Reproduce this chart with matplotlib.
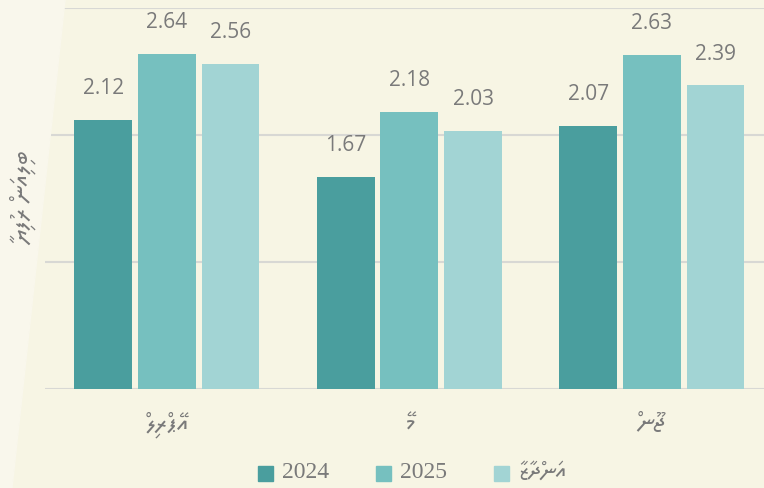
import matplotlib
matplotlib.use("Agg")
import matplotlib.pyplot as plt
from matplotlib.patches import Rectangle, Polygon
import numpy as np

# --- data -----------------------------------------------------------------
CATEGORIES = ["އޭޕްރިލް", "މޭ", "ޖޫން"]
SERIES = ["2024", "2025", "އަންދާޒާ"]
VALUES_2024 = [2.12, 1.67, 2.07]
VALUES_2025 = [2.64, 2.18, 2.63]
VALUES_EST = [2.56, 2.03, 2.39]
Y_LABEL = "ބިލިއަން ރުފިޔާ"

COLORS = ["#4a9e9e", "#76c0bf", "#a2d4d4"]
BG = "#f7f5e4"
TEXT = "#7a7a7a"
FAMILY = ["Noto Sans Thaana", "DejaVu Sans"]


def rtl(s):
    # matplotlib has no bidi: flip Thaana strings (marks land on their base)
    if not any(0x0780 <= ord(c) <= 0x07BF for c in s):
        return s
    return s[::-1]


fig = plt.figure(figsize=(7.64, 4.88), dpi=100, facecolor=BG)
# faint lighter wedge on the left edge of the background
fig.patches.append(Polygon([(0, 1), (65 / 764, 1), (12 / 764, 0), (0, 0)],
                           closed=True, transform=fig.transFigure,
                           color="#f9f7ec", zorder=0))
ax = fig.add_axes([45 / 764, 1 - 389 / 488, 719 / 764, 381 / 488])
ax.set_facecolor("none")

x = np.arange(len(CATEGORIES))
width, step = 0.239, 0.262
for i, vals in enumerate([VALUES_2024, VALUES_2025, VALUES_EST]):
    bars = ax.bar(x + (i - 1) * step, vals, width, color=COLORS[i], zorder=3)
    for b, v in zip(bars, vals):
        ax.annotate(f"{v:.2f}", (b.get_x() + b.get_width() / 2, v),
                    xytext=(0, 15), textcoords="offset points",
                    ha="center", va="bottom", fontsize=15, color=TEXT,
                    family=["Open Sans", "DejaVu Sans"], annotation_clip=False)

ax.set_xlim(-0.503, 2.462)
ax.set_ylim(0, 3)
ax.set_yticks([0, 1, 2, 3])
ax.set_yticklabels([])
ax.tick_params(length=0)
ax.grid(axis="y", color="#d8d8d4", lw=1.5, zorder=0)
for s in ax.spines.values():
    s.set_visible(False)
ax.set_xticks(x)
ax.set_xticklabels([rtl(c) for c in CATEGORIES], family=FAMILY,
                   fontsize=18, color=TEXT)
ax.tick_params(axis="x", pad=16)

fig.text(24 / 764, 1 - 198 / 488, rtl(Y_LABEL), rotation=90, ha="center",
         va="center", fontsize=18, color=TEXT, family=FAMILY)

# legend drawn as boxes + labels
leg_x = [258, 376, 494]
for i, name in enumerate(SERIES):
    fig.patches.append(Rectangle((leg_x[i] / 764, 1 - 481 / 488), 15 / 764,
                                 15 / 488, transform=fig.transFigure,
                                 color=COLORS[i]))
    fig.text((leg_x[i] + 24) / 764, 1 - 472 / 488, rtl(name), ha="left",
             va="center", fontsize=17, color=TEXT,
             family=["Liberation Serif"] + FAMILY)

fig.savefig("out.png", dpi=100, facecolor=BG)
